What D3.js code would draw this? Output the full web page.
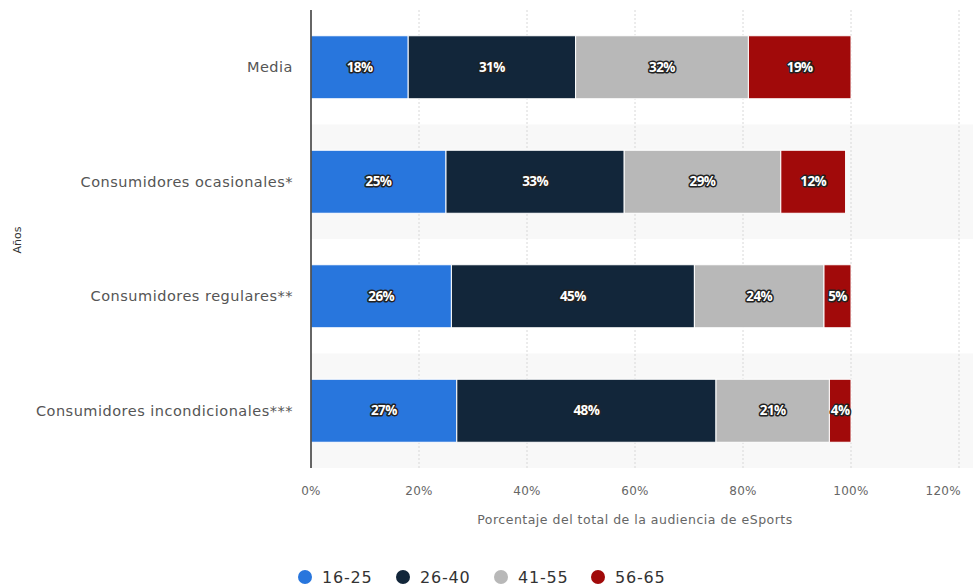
<!DOCTYPE html>
<html><head><meta charset="utf-8">
<script src="https://cdn.jsdelivr.net/npm/d3@7"></script>
<style>
body{margin:0;background:#fff;font-family:"DejaVu Sans",sans-serif;}
svg{display:block}
</style></head>
<body>
<svg id="c" width="973" height="586"></svg>
<script>
const categories = ["Media","Consumidores ocasionales*","Consumidores regulares**","Consumidores incondicionales***"];
const seriesNames = ["16-25","26-40","41-55","56-65"];
const s1625 = [18,25,26,27];
const s2640 = [31,33,45,48];
const s4155 = [32,29,24,21];
const s5665 = [19,12,5,4];
const xTicks = [0,20,40,60,80,100,120];
const colors = ["#2876dd","#12263a","#b8b8b8","#a10a0a"];

(function(){
const seriesVals = [s1625,s2640,s4155,s5665];
const rows = categories.map((c,i)=>{const o={cat:c}; seriesNames.forEach((s,j)=>o[s]=seriesVals[j][i]); return o;});
const stack = d3.stack().keys(seriesNames)(rows);

const svg = d3.select("#c");
const pL=311, pR=959, pT=10, pB=468;
const x = d3.scaleLinear().domain([0,120]).range([pL,pR]);
const y = d3.scaleBand().domain(categories).range([pT,pB]).paddingInner(0).paddingOuter(0);
const barH = 63;

// alternating bands
svg.append("g").selectAll("rect").data(categories.filter((d,i)=>i%2===1)).join("rect")
  .attr("x",pL).attr("width",973-pL).attr("y",d=>y(d)).attr("height",y.bandwidth())
  .attr("fill","#f8f8f8");

// grid
svg.append("g").selectAll("line").data(xTicks.filter(t=>t>0)).join("line")
  .attr("x1",d=>x(d)).attr("x2",d=>x(d)).attr("y1",pT).attr("y2",pB)
  .attr("stroke","#d8d8d8").attr("stroke-dasharray","2,2").attr("stroke-width",1);

// bars
const g = svg.append("g");
stack.forEach((layer,j)=>{
  g.selectAll(null).data(layer).join("rect")
    .attr("x",d=>x(d[0])).attr("width",d=>x(d[1])-x(d[0]))
    .attr("y",d=>y(d.data.cat)+(y.bandwidth()-barH)/2).attr("height",barH)
    .attr("fill",colors[j]).attr("stroke","#fff").attr("stroke-width",1);
});
// labels
stack.forEach((layer,j)=>{
  g.selectAll(null).data(layer).join("text")
    .attr("x",d=>(x(d[0])+x(d[1]))/2).attr("y",d=>y(d.data.cat)+y.bandwidth()/2)
    .attr("dy","0.35em").attr("text-anchor","middle")
    .attr("font-family","'Open Sans',sans-serif")
    .attr("font-size",13.5).attr("font-weight","bold").attr("fill","#fff")
    .attr("stroke","#222").attr("stroke-width",3).attr("stroke-linejoin","round")
    .attr("paint-order","stroke").attr("letter-spacing","-0.6")
    .text(d=>(d[1]-d[0])+"%");
});

// y axis line
svg.append("line").attr("x1",pL).attr("x2",pL).attr("y1",pT).attr("y2",pB)
  .attr("stroke","#333").attr("stroke-width",1.5);

// category labels
svg.append("g").selectAll("text").data(categories).join("text")
  .attr("x",293).attr("y",d=>y(d)+y.bandwidth()/2).attr("dy","0.35em")
  .attr("text-anchor","end").attr("font-size",14.5).attr("letter-spacing","0.5")
  .attr("fill","#555").text(d=>d);

// x ticks
svg.append("g").selectAll("text").data(xTicks).join("text")
  .attr("x",(d,i)=>i===xTicks.length-1 ? 961 : x(d)).attr("y",495)
  .attr("text-anchor",(d,i)=>i===xTicks.length-1 ? "end" : "middle")
  .attr("font-size",12).attr("letter-spacing","0.3").attr("fill","#666").text(d=>d+"%");

svg.append("text").attr("x",(pL+pR)/2).attr("y",524).attr("text-anchor","middle")
  .attr("font-size",12.5).attr("letter-spacing","0.5")
  .attr("fill","#666").text("Porcentaje del total de la audiencia de eSports");

svg.append("text").attr("transform","translate(21,240) rotate(-90)").attr("text-anchor","middle")
  .attr("font-size",11).attr("fill","#333").text("Años");

// legend
const legX=[305,403,501,598];
const lg = svg.append("g");
seriesNames.forEach((s,j)=>{
  lg.append("circle").attr("cx",legX[j]).attr("cy",577).attr("r",7).attr("fill",colors[j]);
  lg.append("text").attr("x",legX[j]+17).attr("y",577).attr("dy","0.35em")
    .attr("font-size",16).attr("letter-spacing","0.8").attr("fill","#333").text(s);
});
})();
</script>
</body></html>
